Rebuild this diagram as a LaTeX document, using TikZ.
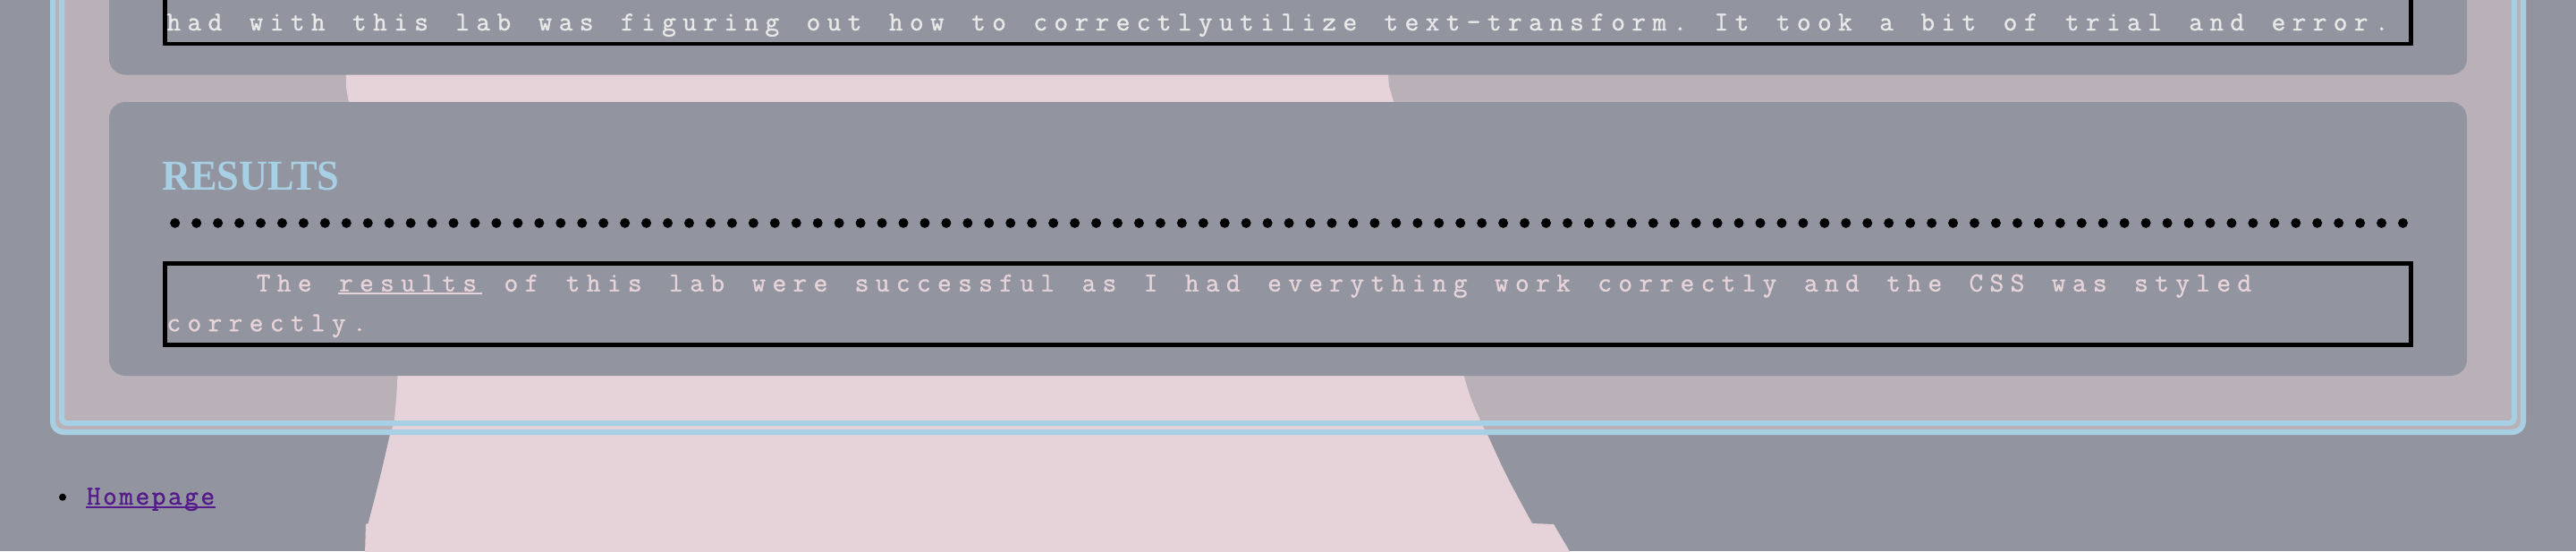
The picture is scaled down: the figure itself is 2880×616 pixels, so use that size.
\documentclass[tikz,border=0pt]{standalone}
\usepackage{fontspec}
\usepackage{tikz}
\usetikzlibrary{positioning}

\newfontfamily\headfont{Liberation Serif}
\newfontfamily\typewriter{Latin Modern Mono}[FakeBold=1.2]

\definecolor{pagegray}{HTML}{92949F}
\definecolor{mauve}{HTML}{BAB0B8}
\definecolor{blush}{HTML}{E6D3D9}
\definecolor{skyline}{HTML}{A8D0E4}
\definecolor{paper}{HTML}{E8E8E8}
\definecolor{visited}{HTML}{551A8B}

% monospaced cells, with the page's letter spacing
\ExplSyntaxOn
\NewDocumentCommand\spaced{O{23.07pt}m}{\str_map_inline:nn{#2}{\makebox[#1][l]{\makebox[18.2pt]{##1}}}}
\ExplSyntaxOff
\newcommand\linkline[1]{\setbox0\hbox{#1}\rlap{\rule[-3.7pt]{\wd0}{2pt}}\box0}

\begin{document}
\begin{tikzpicture}[x=1pt, y=-1pt,
    card/.style={fill=pagegray, rounded corners=18},
    textbox/.style={draw=black, line width=4.5},
    rim/.style={draw=skyline, line width=6},
    bodytext/.style={anchor=base west, inner sep=0, font=\typewriter\fontsize{30.5}{30.5}\selectfont}]
      \useasboundingbox (0,0) rectangle (2880,616);

      % Page and container
      \fill[pagegray] (0,0) rectangle (2880,616);
      \fill[mauve, rounded corners=15] (56,-40) rectangle (2824,486);

      % Pink backdrop. The numbers come from tracing over the screenshot
      \fill[blush] plot[smooth] coordinates {(384,-10) (386.7,84) (390,114) (420,250) (440,380)
                   (444.3,420) (440.7,470) (436,486) (425,533) (411.7,585)}
           -- (409,586) -- (408,620) -- (1757,620) -- (1737,586)
           -- plot[smooth] coordinates {(1713,585) (1685,533) (1663,486) (1655,470) (1636.7,420)
                   (1600,260) (1558,114) (1552,84) (1548,-10)}
           -- cycle;

      % Double border
      \draw[rim, rounded corners=12] (59,-40) |- (2821,483) -- (2821,-40);
      \draw[rim, rounded corners=6]  (69,-40) |- (2811,473) -- (2811,-40);

      % Cards
      \fill[card] (122,-40) rectangle (2758,83.5);
      \fill[card] (122,114) rectangle (2758,420);

      % Upper card
      \draw[textbox] (184.3,-40) rectangle (2695.5,49.2);
      \node[bodytext, text=paper] (lesson) at (185,34)
           {\spaced{had with this lab was figuring out how to correctlyutilize text-transform. It took a bit of trial and error.}};

      % Results card
      \node[anchor=base west, inner sep=0, text=skyline, xscale=0.93,
            font=\headfont\bfseries\fontsize{47.7}{47.7}\selectfont] (results) at (181,212.3) {RESULTS};
      \foreach \i in {0,...,104}
           \fill (195.7+23.95*\i, 249.3) circle[radius=5.5];
      \draw[textbox] (184.3,294.5) rectangle (2695.5,385.5);
      \node[bodytext, text=blush] (findings) at (285.3,325.7)
           {\spaced{The }\linkline{\spaced{results}}\spaced{ of this lab were successful as I had everything work correctly and the CSS was styled}};
      \node[bodytext, text=blush] (findingsend) at (185,370.2) {\spaced{correctly.}};

      % Link list
      \node[circle, fill=black, inner sep=0, minimum size=8] (bullet) at (70,555.7) {};
      \node[bodytext, text=visited] (home) at (95.5,564) {\linkline{\spaced[18.2pt]{Homepage}}};
\end{tikzpicture}
\end{document}
